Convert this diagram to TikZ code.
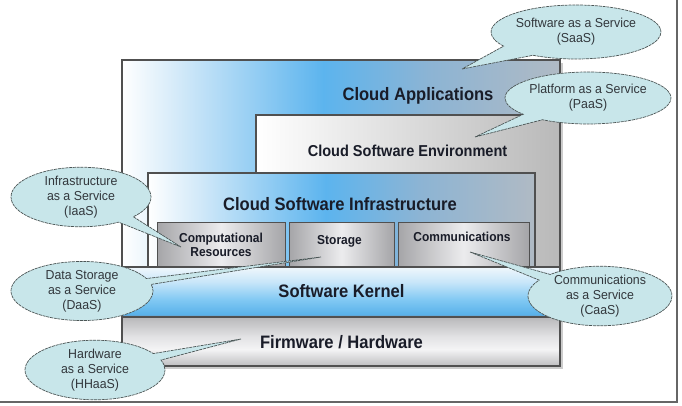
\documentclass[tikz,border=0pt]{standalone}
\usepackage{fontspec}
\setmainfont{Liberation Sans}
\newfontfamily\lblfont[FakeStretch=0.92]{Liberation Sans}
\newfontfamily\bubfont[FakeStretch=0.95]{Liberation Sans}
\usetikzlibrary{shapes.callouts,shadows}
\definecolor{edgec}{RGB}{80,80,80}
\definecolor{labelc}{RGB}{25,28,40}
\definecolor{bubfill}{RGB}{200,230,234}
\definecolor{bubedge}{RGB}{75,85,85}
\definecolor{bubtext}{RGB}{50,55,60}
\definecolor{aA}{RGB}{214,235,249}
\definecolor{aB}{RGB}{92,180,238}
\definecolor{aC}{RGB}{140,180,212}
\definecolor{aD}{RGB}{176,186,196}
\definecolor{kA}{RGB}{240,247,252}
\definecolor{kB}{RGB}{200,230,249}
\definecolor{kC}{RGB}{128,200,243}
\definecolor{kD}{RGB}{90,178,234}
\definecolor{kE}{RGB}{110,150,185}
\definecolor{fA}{RGB}{184,184,186}
\definecolor{fB}{RGB}{226,226,228}
\definecolor{fC}{RGB}{244,244,245}
\definecolor{fD}{RGB}{190,190,192}
\definecolor{sA}{RGB}{165,165,168}
\definecolor{sB}{RGB}{236,236,238}
\pgfdeclarehorizontalshading{appshade}{100bp}{color(0bp)=(white); color(25bp)=(white); color(31bp)=(aA); color(48bp)=(aB); color(60bp)=(aC); color(75bp)=(aD); color(100bp)=(aD)}
\pgfdeclareverticalshading{kernshade}{100bp}{color(0bp)=(kE); color(25bp)=(kE); color(28bp)=(kD); color(42bp)=(kC); color(60bp)=(kB); color(75bp)=(kA); color(100bp)=(kA)}
\pgfdeclareverticalshading{firmshade}{100bp}{color(0bp)=(fD); color(25bp)=(fD); color(42bp)=(fC); color(55bp)=(fB); color(75bp)=(fA); color(100bp)=(fA)}
\pgfdeclarehorizontalshading{subshade}{100bp}{color(0bp)=(sA); color(25bp)=(sA); color(50bp)=(sB); color(75bp)=(sA); color(100bp)=(sA)}
\tikzset{
  layer/.style={draw=edgec, line width=1.1pt},
  subbox/.style={draw=edgec, line width=1pt, shading=subshade},
  lbl/.style={font=\lblfont\bfseries\fontsize{18}{20}\selectfont, text=labelc, inner sep=0pt},
  sublbl/.style={font=\lblfont\bfseries\fontsize{13}{14}\selectfont, text=labelc, inner sep=0pt, align=center},
  bubble/.style={ellipse callout, fill=bubfill, draw=bubedge, line width=0.7pt,
    dash pattern=on 3pt off 0.8pt, text=bubtext, align=center, inner sep=0pt,
    font=\bubfont\fontsize{13}{15}\selectfont},
}
\begin{document}
\begin{tikzpicture}[x=1pt,y=-1pt]
\useasboundingbox (0,0) rectangle (682,406);
\fill[white] (0,0) rectangle (682,406);
% screenshot frame
\draw[line width=1.4pt, draw=gray!80!black] (677,0) -- (677,402) -- (0,402);
% main box (Cloud Applications)
\path[shading=appshade, drop shadow={shadow xshift=3pt, shadow yshift=-3pt, opacity=0.4}] (122,60) rectangle (560,366);
% Cloud Software Environment
\path[layer, left color=white, right color=gray!55] (256,115) rectangle (560,267);
% Cloud Software Infrastructure
\path[layer, shading=appshade] (148,173) rectangle (535,267);
% sub boxes
\path[subbox] (157,222) rectangle (285,266);
\path[subbox] (289,222) rectangle (394,266);
\path[subbox] (398,222) rectangle (529,266);
% kernel and firmware
\path[layer, shading=kernshade] (122,267) rectangle (560,317);
\path[layer, shading=firmshade] (122,317) rectangle (560,366);
\draw[layer] (122,60) rectangle (560,366);
% labels
\node[lbl, anchor=base] (apps) at (418,100.5) {Cloud Applications};
\node[lbl, anchor=base, font=\lblfont\bfseries\fontsize{15.8}{18}\selectfont] (env) at (407.5,156.5) {Cloud Software Environment};
\node[lbl, anchor=base] (infra) at (340,210.5) {Cloud Software Infrastructure};
\node[sublbl] (comp) at (221,245) {Computational\\Resources};
\node[sublbl, anchor=base] (stor) at (339.5,244.5) {Storage};
\node[sublbl, anchor=base] (comm) at (462,241.5) {Communications};
\node[lbl, anchor=base] (kern) at (341.5,297.5) {Software Kernel};
\node[lbl, anchor=base] (firm) at (341.5,348) {Firmware / Hardware};
% callout tips
\coordinate (tS) at (462,69);
\coordinate (tP) at (475,137);
\coordinate (tI) at (181,247);
\coordinate (tD) at (321,257);
\coordinate (tH) at (241,339);
\coordinate (tC) at (470,252);
% bubbles
\node[bubble, minimum width=146pt, minimum height=54pt, callout absolute pointer={(tS)}, callout pointer arc=28] (saas) at (576,32) {Software as a Service\\(SaaS)};
\node[bubble, minimum width=146pt, minimum height=52pt, callout absolute pointer={(tP)}, callout pointer arc=18] (paas) at (588,98) {Platform as a Service\\(PaaS)};
\node[bubble, minimum width=140pt, minimum height=58pt, callout absolute pointer={(tI)}, callout pointer arc=16] (iaas) at (81,197) {Infrastructure\\as a Service\\(IaaS)};
\node[bubble, minimum width=142pt, minimum height=56pt, callout absolute pointer={(tD)}, callout pointer arc=12] (daas) at (82,291) {Data Storage\\as a Service\\(DaaS)};
\node[bubble, minimum width=140pt, minimum height=48pt, callout absolute pointer={(tH)}, callout pointer arc=14] (hhaas) at (95,370) {Hardware\\as a Service\\(HHaaS)};
\node[bubble, minimum width=144pt, minimum height=58pt, callout absolute pointer={(tC)}, callout pointer arc=14] (caas) at (600,296) {Communications\\as a Service\\(CaaS)};
\end{tikzpicture}
\end{document}
